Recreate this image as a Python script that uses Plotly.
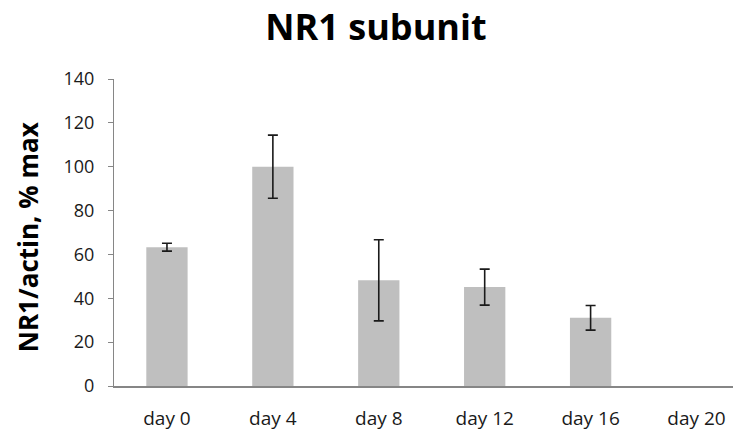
import plotly.graph_objects as go

categories = ["day 0", "day 4", "day 8", "day 12", "day 16", "day 20"]
values = [63.3, 100, 48.2, 45.1, 31.1, None]
errors = [1.8, 14.4, 18.5, 8.2, 5.6, float("nan")]
y_ticks = [0, 20, 40, 60, 80, 100, 120, 140]

FONT = "Open Sans, Noto Sans, sans-serif"

fig = go.Figure()
fig.add_trace(go.Bar(
    x=categories,
    y=values,
    marker=dict(color="#bfbfbf", line=dict(width=0)),
    error_y=dict(type="data", array=errors, visible=True,
                 color="#1a1a1a", thickness=1.6, width=5),
))

fig.add_annotation(
    text="<b>NR1/actin, % max</b>",
    xref="paper", yref="paper", x=-0.137, y=0.485,
    xanchor="center", yanchor="middle", textangle=-90,
    showarrow=False,
    font=dict(family=FONT, size=26, color="black"),
)

fig.update_layout(
    width=733, height=426,
    margin=dict(l=106, r=0, t=71, b=48),
    paper_bgcolor="white", plot_bgcolor="white",
    bargap=0.61,
    showlegend=False,
    title=dict(text="<b>NR1 subunit</b>", x=0.502, xanchor="center",
               y=0.955, yanchor="middle",
               font=dict(family=FONT, size=36, color="black")),
    xaxis=dict(
        type="category",
        range=[-0.5, 5.42],
        automargin=False,
        showline=True, linecolor="#868686", linewidth=1.5,
        ticks="", showgrid=False,
        ticklabelstandoff=14,
        tickfont=dict(family=FONT, size=19, color="#1a1a1a"),
    ),
    yaxis=dict(
        range=[0, 140],
        tickvals=y_ticks,
        automargin=False,
        showline=True, linecolor="#868686", linewidth=1.2,
        ticks="outside", ticklen=5, tickcolor="#868686",
        showgrid=False, zeroline=False,
        ticklabelstandoff=10,
        tickfont=dict(family=FONT, size=18, color="#1a1a1a"),
    ),
)

fig.write_html("out.html")
